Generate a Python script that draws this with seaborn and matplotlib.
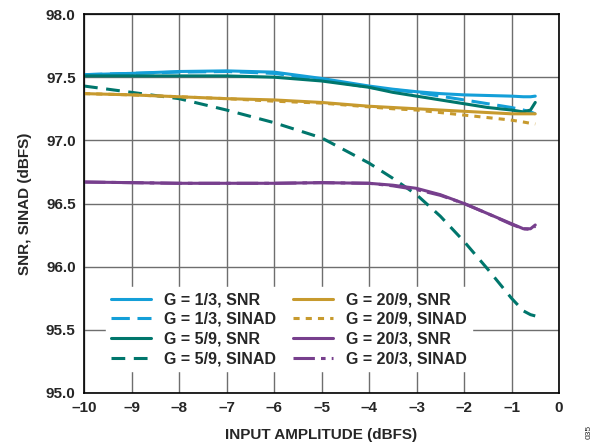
import pandas as pd
import numpy as np
import matplotlib
matplotlib.use("Agg")
import matplotlib.pyplot as plt
import seaborn as sns

# input amplitude (dBFS)
amp = [-10, -9, -8, -7, -6, -5, -4, -3.5, -3, -2.5, -2, -1.5, -1, -0.75, -0.6, -0.5]

g13_snr = [97.52, 97.53, 97.545, 97.55, 97.54, 97.49, 97.43, 97.405, 97.385, 97.37, 97.36, 97.355, 97.35, 97.345, 97.345, 97.35]
g13_sinad = [97.52, 97.53, 97.54, 97.545, 97.53, 97.48, 97.42, 97.40, 97.38, 97.35, 97.32, 97.29, 97.26, 97.24, 97.225, 97.21]
g59_snr = [97.51, 97.51, 97.51, 97.51, 97.50, 97.47, 97.42, 97.38, 97.35, 97.32, 97.29, 97.26, 97.24, 97.225, 97.24, 97.30]
g59_sinad = [97.43, 97.38, 97.33, 97.24, 97.14, 97.02, 96.82, 96.70, 96.57, 96.40, 96.20, 95.98, 95.75, 95.65, 95.62, 95.61]
g209_snr = [97.37, 97.36, 97.345, 97.33, 97.32, 97.30, 97.27, 97.26, 97.25, 97.24, 97.23, 97.22, 97.21, 97.21, 97.21, 97.21]
g209_sinad = [97.37, 97.36, 97.345, 97.33, 97.31, 97.295, 97.265, 97.25, 97.24, 97.22, 97.20, 97.18, 97.16, 97.145, 97.135, 97.13]
g203_snr = [96.67, 96.665, 96.66, 96.66, 96.66, 96.665, 96.66, 96.645, 96.62, 96.57, 96.50, 96.42, 96.34, 96.30, 96.30, 96.33]
g203_sinad = [96.67, 96.665, 96.66, 96.66, 96.66, 96.665, 96.66, 96.64, 96.61, 96.565, 96.50, 96.42, 96.335, 96.30, 96.295, 96.32]

labels = ["G = 1/3, SNR", "G = 1/3, SINAD", "G = 5/9, SNR", "G = 5/9, SINAD",
          "G = 20/9, SNR", "G = 20/9, SINAD", "G = 20/3, SNR", "G = 20/3, SINAD"]
series = [g13_snr, g13_sinad, g59_snr, g59_sinad, g209_snr, g209_sinad, g203_snr, g203_sinad]

blue, teal, gold, purple = "#149fd8", "#00766c", "#c79a2e", "#773f8d"
colors = [blue, blue, teal, teal, gold, gold, purple, purple]
dashes = [None, (6, 2.5), None, (4.5, 2.8), None, (2, 2), None, (7, 2, 1.5, 2)]

sns.set_style("ticks")
plt.rcParams["font.family"] = ["Liberation Sans", "DejaVu Sans"]
plt.rcParams["font.weight"] = "bold"

fig = plt.figure(figsize=(5.98, 4.48), dpi=100)
ax = fig.add_axes([0.1405, 0.1228, 0.7943, 0.8459])

for lab, vals, c, d in zip(labels, series, colors, dashes):
    df = pd.DataFrame({"amp": amp, "val": vals})
    sns.lineplot(data=df, x="amp", y="val", ax=ax, color=c, lw=2.2, label=lab)
    if d is not None:
        ax.lines[-1].set_dashes(d)

ax.set_xlim(-10, 0)
ax.set_ylim(95.0, 98.0)
ax.set_xticks(np.arange(-10, 1, 1))
ax.set_xticklabels(["\u2013" + str(abs(t)) if t < 0 else "0" for t in range(-10, 1)])
ax.set_yticks(np.arange(95.0, 98.01, 0.5))
ax.set_yticklabels([f"{v:.1f}" for v in np.arange(95.0, 98.01, 0.5)])
ax.grid(True, color="#6e6e6e", lw=1.0)
ax.set_axisbelow(True)
ax.tick_params(length=0, labelsize=11, pad=6)
for s in ax.spines.values():
    s.set_color("black")
    s.set_linewidth(1.2)

ax.set_xlabel("INPUT AMPLITUDE (dBFS)", fontsize=11, fontweight="bold", labelpad=9)
ax.set_ylabel("SNR, SINAD (dBFS)", fontsize=11, fontweight="bold", labelpad=10)

leg = ax.legend(loc="lower left", bbox_to_anchor=(0.03, 0.036), ncol=2, frameon=True,
                fontsize=11.5, handlelength=2.5, columnspacing=1.1, labelspacing=0.3,
                handletextpad=0.8, borderpad=0.3, fancybox=False)
leg.get_frame().set_facecolor("white")
leg.get_frame().set_edgecolor("white")
leg.get_frame().set_alpha(1.0)
for t in leg.get_texts():
    t.set_fontweight("bold")

fig.text(0.985, 0.02, "035", rotation=90, fontsize=6, fontweight="normal", ha="center", va="bottom")

fig.savefig("out.png", dpi=100)
